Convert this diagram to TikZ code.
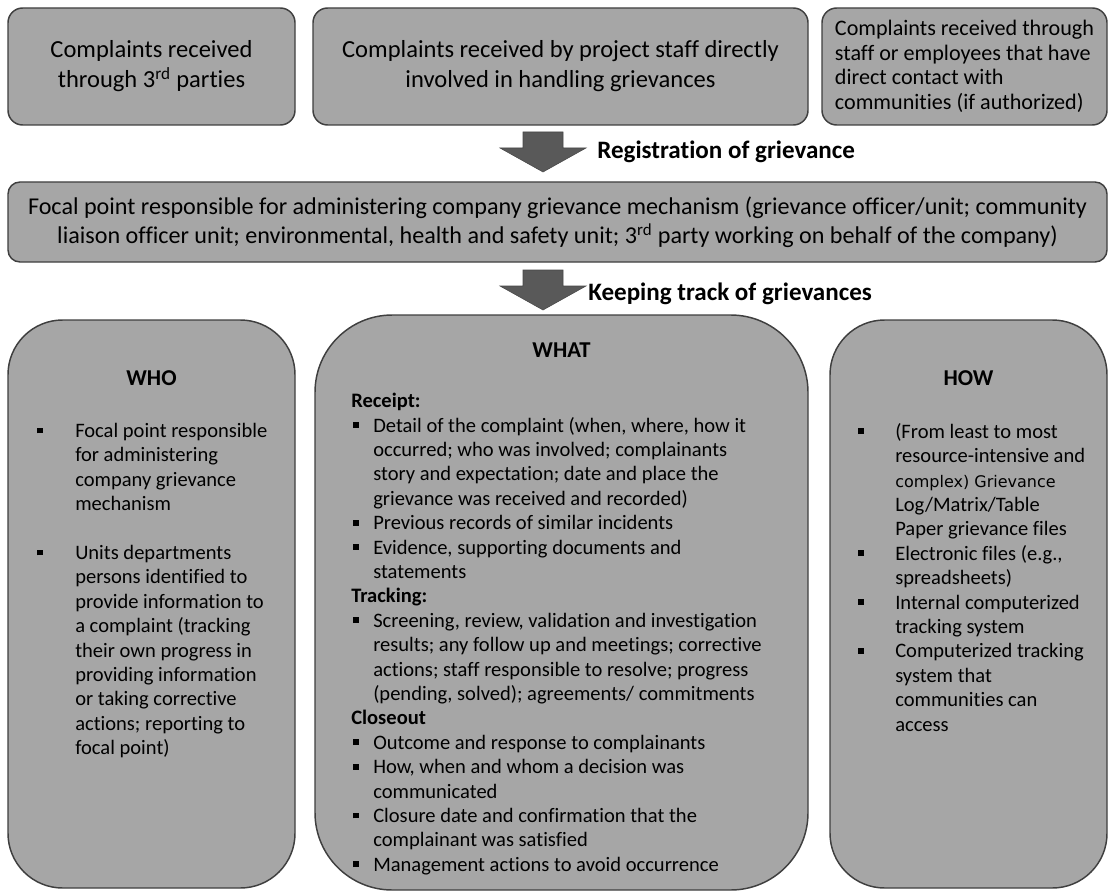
\documentclass[tikz,border=0pt]{standalone}
\usepackage{fontspec}
\setmainfont{Carlito}[Ligatures=NoCommon]
\newfontfamily\dvfont{DejaVu Sans}
\usetikzlibrary{positioning}
\definecolor{boxgray}{HTML}{A6A6A6}
\definecolor{edgegray}{HTML}{3F3F3F}
\definecolor{arrowgray}{HTML}{595959}
% square bullets and hanging indents
\newcommand{\sqb}{\rule[0.2em]{0.28em}{0.28em}}
\newcommand{\whob}{\makebox[28.5pt][l]{\sqb}}
\newcommand{\whoi}{\makebox[28.5pt]{}}
\newcommand{\howb}{\makebox[27.75pt][l]{\sqb}}
\newcommand{\howi}{\makebox[27.75pt]{}}
\newcommand{\whatb}{\makebox[16.5pt][l]{\hspace{1.5pt}\sqb}}
\newcommand{\whati}{\makebox[16.5pt]{}}

\begin{document}
\begin{tikzpicture}[
    x=0.75pt, y=-0.75pt,
    inbox/.style={rectangle, draw=edgegray, fill=boxgray, line width=1.1pt, rounded corners=11pt, minimum height=87.75pt, align=center, inner sep=0pt, font=\fontsize{18.4}{22.5}\selectfont},
    bigbox/.style={rectangle, draw=edgegray, fill=boxgray, line width=1.1pt, rounded corners=#1, inner sep=0pt},
    head/.style={font=\fontsize{17}{20}\selectfont\bfseries, inner sep=0pt},
    list/.style={align=left, anchor=north west, inner sep=0pt, font=\fontsize{15.4}{18.3}\selectfont},
    lbl/.style={anchor=west, inner sep=0pt, font=\fontsize{18.8}{22}\selectfont\bfseries},
    blockarrow/.pic={\fill[arrowgray, draw=arrowgray!80!black, line width=0.4pt] (-20,0) -- (20,0) -- (20,16) -- (43,16) -- (0,40) -- (-43,16) -- (-20,16) -- cycle;},
]
\useasboundingbox (0,0) rectangle (1113,895);

% Ways of receiving complaints
\node[inbox, minimum width=215.25pt] (third) at (151.5,66.5) {Complaints received\\through 3\textsuperscript{rd} parties};
\node[inbox, minimum width=371.25pt] (staff) at (560.5,66.5) {Complaints received by project staff directly\\involved in handling grievances};
\node[inbox, minimum width=213.75pt, align=left, font=\fontsize{16.6}{18.4}\selectfont] (employees) at (964.5,66.5) {Complaints received through\\staff or employees that have\\direct contact with\\communities (if authorized)};

% Registration
\coordinate (regtop) at (543,132);
\pic (regarrow) at (regtop) {blockarrow};
\node[lbl] (reglbl) at (597,152) {Registration of grievance};

% Focal point
\node[inbox, minimum width=824.25pt, minimum height=60pt, rounded corners=9pt, font=\fontsize{18.1}{22}\selectfont] (focal) at (557.5,222) {Focal point responsible for administering company grievance mechanism (grievance officer/unit; community\\liaison officer unit; environmental, health and safety unit; 3\textsuperscript{rd} party working on behalf of the company)};

% Keeping track
\coordinate (tracktop) at (543,270);
\pic (trackarrow) at (tracktop) {blockarrow};
\node[lbl] (tracklbl) at (588,294) {Keeping track of grievances};

% WHO / WHAT / HOW
\node[bigbox=41pt, minimum width=215.25pt, minimum height=426pt] (whobox) at (151.5,604) {};
\node[bigbox=58pt, minimum width=369.75pt, minimum height=431.25pt] (whatbox) at (561.5,602.5) {};
\node[bigbox=41pt, minimum width=207.75pt, minimum height=426pt] (howbox) at (968.5,604) {};

\node[head] (whohead) at (151.5,378) {WHO};
\node[head] (whathead) at (561.5,350) {WHAT};
\node[head] (howhead) at (968.5,378) {HOW};

\node[list] (wholist) at (37,423) {%
\whob Focal point responsible\\
\whoi for administering\\
\whoi company grievance\\
\whoi mechanism\\
~\\
\whob Units departments\\
\whoi persons identified to\\
\whoi provide information to\\
\whoi a complaint (tracking\\
\whoi their own progress in\\
\whoi providing information\\
\whoi or taking corrective\\
\whoi actions; reporting to\\
\whoi focal point)};

\node[list] (whatlist) at (351,393) {%
\textbf{Receipt:}\\
\whatb Detail of the complaint (when, where, how it\\
\whati occurred; who was involved; complainants\\
\whati story and expectation; date and place the\\
\whati grievance was received and recorded)\\
\whatb Previous records of similar incidents\\
\whatb Evidence, supporting documents and\\
\whati statements\\
\textbf{Tracking:}\\
\whatb Screening, review, validation and investigation\\
\whati results; any follow up and meetings; corrective\\
\whati actions; staff responsible to resolve; progress\\
\whati (pending, solved); agreements/ commitments\\
\textbf{Closeout}\\
\whatb Outcome and response to complainants\\
\whatb How, when and whom a decision was\\
\whati communicated\\
\whatb Closure date and confirmation that the\\
\whati complainant was satisfied\\
\whatb Management actions to avoid occurrence};

\node[list] (howlist) at (858,423) {%
\howb (From least to most\\
\howi resource-intensive and\\
\howi {\dvfont\fontsize{12}{18.3}\selectfont complex) Grievance}\\
\howi Log/Matrix/Table\\
\howi Paper grievance files\\
\howb Electronic files (e.g.,\\
\howi spreadsheets)\\
\howb Internal computerized\\
\howi tracking system\\
\howb Computerized tracking\\
\howi system that\\
\howi communities can\\
\howi access};

\end{tikzpicture}
\end{document}
